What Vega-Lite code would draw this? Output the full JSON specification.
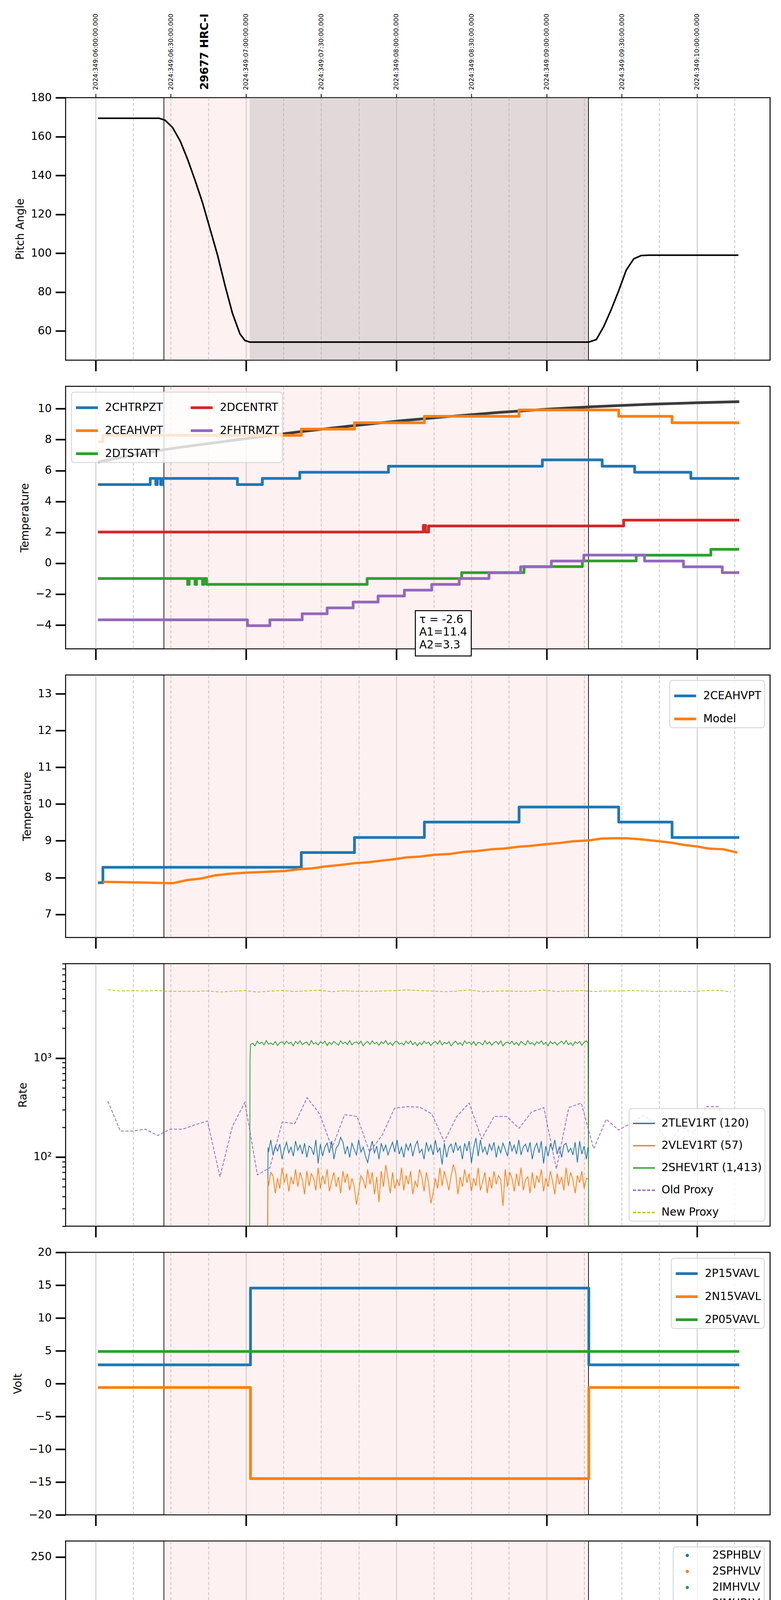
{
  "$schema": "https://vega.github.io/schema/vega-lite/v6.json",
  "background": "white",
  "padding": {"left": 28, "top": 33, "right": 0, "bottom": 0},
  "bounds": "flush",
  "spacing": 67,
  "config": {
    "font": "DejaVu Sans",
    "view": {"stroke": "black", "strokeWidth": 2.5},
    "axis": {
      "labelFont": "DejaVu Sans", "titleFont": "DejaVu Sans",
      "labelFontSize": 28, "titleFontSize": 28, "titleFontWeight": "normal",
      "labelColor": "black", "titleColor": "black", "tickColor": "black",
      "domain": false, "grid": false, "labelFlush": false, "labelOverlap": false, "labelLimit": 0
    },
    "axisY": {"tickSize": 26, "tickWidth": 4, "labelPadding": 10, "titlePadding": 12},
    "legend": {
      "labelFont": "DejaVu Sans", "labelFontSize": 28, "labelColor": "black",
      "fillColor": "rgba(255,255,255,0.8)", "strokeColor": "#d9d9d9", "strokeWidth": 2.5,
      "cornerRadius": 7, "padding": 8, "rowPadding": 13, "labelLimit": 0, "offset": 14
    }
  },
  "resolve": {
    "scale": {"x": "independent", "y": "independent", "color": "independent", "strokeDash": "independent"},
    "legend": {"color": "independent", "strokeDash": "independent"}
  },
  "datasets": {
    "region": [{"t": 1.454, "t2": 4.279}],
    "slew": [{"t": 2.025, "t2": 4.279}],
    "edges": [{"t": 1.454}, {"t": 4.279}],
    "hrc": [{"t": 1.727, "v": 184, "label": "29677 HRC-I"}],
    "pitch": [
      {"t": 1.015, "v": 169.4}, {"t": 1.423, "v": 169.4}, {"t": 1.462, "v": 168.4}, {"t": 1.512, "v": 164.6},
      {"t": 1.562, "v": 157.8}, {"t": 1.612, "v": 148.2}, {"t": 1.661, "v": 137.6}, {"t": 1.711, "v": 126.0},
      {"t": 1.761, "v": 112.5}, {"t": 1.811, "v": 99.0}, {"t": 1.86, "v": 83.6}, {"t": 1.91, "v": 69.1},
      {"t": 1.96, "v": 58.5}, {"t": 1.993, "v": 55.1}, {"t": 2.026, "v": 54.3}, {"t": 4.281, "v": 54.3},
      {"t": 4.331, "v": 55.6}, {"t": 4.381, "v": 62.4}, {"t": 4.43, "v": 71.0}, {"t": 4.48, "v": 80.7},
      {"t": 4.53, "v": 91.3}, {"t": 4.58, "v": 97.1}, {"t": 4.629, "v": 98.8}, {"t": 4.679, "v": 99.0},
      {"t": 5.276, "v": 99.0}
    ],
    "temps": [
      {"s": "2CHTRPZT", "t": 1.015, "v": 5.09}, {"s": "2CHTRPZT", "t": 1.363, "v": 5.49}, {"s": "2CHTRPZT", "t": 1.4, "v": 5.09},
      {"s": "2CHTRPZT", "t": 1.41, "v": 5.49}, {"s": "2CHTRPZT", "t": 1.432, "v": 5.09}, {"s": "2CHTRPZT", "t": 1.446, "v": 5.49},
      {"s": "2CHTRPZT", "t": 1.943, "v": 5.09}, {"s": "2CHTRPZT", "t": 2.109, "v": 5.49}, {"s": "2CHTRPZT", "t": 2.358, "v": 5.89},
      {"s": "2CHTRPZT", "t": 2.948, "v": 6.28}, {"s": "2CHTRPZT", "t": 3.972, "v": 6.69}, {"s": "2CHTRPZT", "t": 4.37, "v": 6.28},
      {"s": "2CHTRPZT", "t": 4.586, "v": 5.89}, {"s": "2CHTRPZT", "t": 4.96, "v": 5.49}, {"s": "2CHTRPZT", "t": 5.282, "v": 5.49},
      {"s": "2CEAHVPT", "t": 1.015, "v": 7.86}, {"s": "2CEAHVPT", "t": 1.048, "v": 8.28}, {"s": "2CEAHVPT", "t": 2.368, "v": 8.68},
      {"s": "2CEAHVPT", "t": 2.722, "v": 9.09}, {"s": "2CEAHVPT", "t": 3.187, "v": 9.51}, {"s": "2CEAHVPT", "t": 3.817, "v": 9.92},
      {"s": "2CEAHVPT", "t": 4.48, "v": 9.51}, {"s": "2CEAHVPT", "t": 4.835, "v": 9.09}, {"s": "2CEAHVPT", "t": 5.282, "v": 9.09},
      {"s": "2DTSTATT", "t": 1.015, "v": -0.99}, {"s": "2DTSTATT", "t": 1.612, "v": -1.37}, {"s": "2DTSTATT", "t": 1.622, "v": -0.99},
      {"s": "2DTSTATT", "t": 1.661, "v": -1.37}, {"s": "2DTSTATT", "t": 1.671, "v": -0.99}, {"s": "2DTSTATT", "t": 1.711, "v": -1.37},
      {"s": "2DTSTATT", "t": 1.72, "v": -0.99}, {"s": "2DTSTATT", "t": 1.738, "v": -1.37}, {"s": "2DTSTATT", "t": 2.806, "v": -0.99},
      {"s": "2DTSTATT", "t": 3.435, "v": -0.61}, {"s": "2DTSTATT", "t": 3.85, "v": -0.22}, {"s": "2DTSTATT", "t": 4.238, "v": 0.15},
      {"s": "2DTSTATT", "t": 4.596, "v": 0.52}, {"s": "2DTSTATT", "t": 5.093, "v": 0.9}, {"s": "2DTSTATT", "t": 5.282, "v": 0.9},
      {"s": "2DCENTRT", "t": 1.015, "v": 2.02}, {"s": "2DCENTRT", "t": 3.18, "v": 2.45}, {"s": "2DCENTRT", "t": 3.195, "v": 2.02},
      {"s": "2DCENTRT", "t": 3.215, "v": 2.41}, {"s": "2DCENTRT", "t": 4.513, "v": 2.79}, {"s": "2DCENTRT", "t": 5.282, "v": 2.79},
      {"s": "2FHTRMZT", "t": 1.015, "v": -3.66}, {"s": "2FHTRMZT", "t": 2.01, "v": -4.04}, {"s": "2FHTRMZT", "t": 2.159, "v": -3.66},
      {"s": "2FHTRMZT", "t": 2.374, "v": -3.27}, {"s": "2FHTRMZT", "t": 2.54, "v": -2.89}, {"s": "2FHTRMZT", "t": 2.713, "v": -2.51},
      {"s": "2FHTRMZT", "t": 2.879, "v": -2.12}, {"s": "2FHTRMZT", "t": 3.054, "v": -1.74}, {"s": "2FHTRMZT", "t": 3.236, "v": -1.37},
      {"s": "2FHTRMZT", "t": 3.419, "v": -0.99}, {"s": "2FHTRMZT", "t": 3.617, "v": -0.61}, {"s": "2FHTRMZT", "t": 3.827, "v": -0.23},
      {"s": "2FHTRMZT", "t": 4.032, "v": 0.14}, {"s": "2FHTRMZT", "t": 4.248, "v": 0.53}, {"s": "2FHTRMZT", "t": 4.652, "v": 0.14},
      {"s": "2FHTRMZT", "t": 4.911, "v": -0.23}, {"s": "2FHTRMZT", "t": 5.169, "v": -0.61}, {"s": "2FHTRMZT", "t": 5.282, "v": -0.61}
    ],
    "model2": [
      {"t": 1.015, "v": 6.55}, {"t": 1.463, "v": 7.36}, {"t": 1.761, "v": 7.76}, {"t": 2.026, "v": 8.1},
      {"t": 2.358, "v": 8.51}, {"t": 2.69, "v": 8.88}, {"t": 3.021, "v": 9.21}, {"t": 3.353, "v": 9.5},
      {"t": 3.684, "v": 9.76}, {"t": 4.016, "v": 9.98}, {"t": 4.347, "v": 10.15}, {"t": 4.679, "v": 10.29},
      {"t": 5.01, "v": 10.39}, {"t": 5.282, "v": 10.46}
    ],
    "limit2": [{"v": 9.5}],
    "limit3": [{"v": 12}, {"v": 9.5}],
    "fitbox": [{"t": 3.127, "t2": 3.499, "v": -3.07, "v2": -6.0}],
    "fittext": [
      {"t": 3.153, "v": -3.66, "label": "τ = -2.6"},
      {"t": 3.153, "v": -4.48, "label": "A1=11.4"},
      {"t": 3.153, "v": -5.32, "label": "A2=3.3"}
    ],
    "model3": [
      {"t": 1.048, "v": 7.885}, {"t": 1.247, "v": 7.87}, {"t": 1.363, "v": 7.86}, {"t": 1.512, "v": 7.846},
      {"t": 1.612, "v": 7.934}, {"t": 1.695, "v": 7.97}, {"t": 1.794, "v": 8.06}, {"t": 1.894, "v": 8.105},
      {"t": 1.993, "v": 8.13}, {"t": 2.126, "v": 8.155}, {"t": 2.258, "v": 8.18}, {"t": 2.358, "v": 8.23},
      {"t": 2.441, "v": 8.25}, {"t": 2.524, "v": 8.3}, {"t": 2.623, "v": 8.34}, {"t": 2.722, "v": 8.39},
      {"t": 2.822, "v": 8.42}, {"t": 2.921, "v": 8.47}, {"t": 2.988, "v": 8.5}, {"t": 3.071, "v": 8.55},
      {"t": 3.154, "v": 8.57}, {"t": 3.254, "v": 8.62}, {"t": 3.353, "v": 8.64}, {"t": 3.453, "v": 8.7},
      {"t": 3.535, "v": 8.72}, {"t": 3.635, "v": 8.77}, {"t": 3.718, "v": 8.79}, {"t": 3.817, "v": 8.84},
      {"t": 3.884, "v": 8.86}, {"t": 4.0, "v": 8.91}, {"t": 4.083, "v": 8.94}, {"t": 4.182, "v": 8.99},
      {"t": 4.281, "v": 9.01}, {"t": 4.364, "v": 9.06}, {"t": 4.447, "v": 9.07}, {"t": 4.53, "v": 9.07},
      {"t": 4.629, "v": 9.04}, {"t": 4.745, "v": 8.99}, {"t": 4.828, "v": 8.95}, {"t": 4.911, "v": 8.89},
      {"t": 5.01, "v": 8.84}, {"t": 5.076, "v": 8.79}, {"t": 5.176, "v": 8.77}, {"t": 5.269, "v": 8.68}
    ],
    "dense": [
      {"t": 2.024, "SH": 8}, {"t": 2.027, "SH": 950}, {"t": 2.03, "SH": 1374}, {"t": 2.045, "SH": 1413},
      {"t": 2.06, "SH": 1327}, {"t": 2.075, "SH": 1483}, {"t": 2.09, "SH": 1394}, {"t": 2.105, "SH": 1453},
      {"t": 2.12, "SH": 1356}, {"t": 2.135, "SH": 1504}, {"t": 2.143, "TL": 8, "VL": 8}, {"t": 2.147, "TL": 125, "VL": 60},
      {"t": 2.15, "TL": 112, "VL": 51, "SH": 1384, "IV": 78.9, "IB": 85.1},
      {"t": 2.165, "TL": 149, "VL": 70, "SH": 1423, "IV": 78.9, "IB": 86.6},
      {"t": 2.18, "TL": 105, "VL": 65, "SH": 1365, "IV": 78.9, "IB": 84.8},
      {"t": 2.195, "TL": 129, "VL": 43, "SH": 1473, "IV": 78.9, "IB": 85.9},
      {"t": 2.21, "TL": 115, "VL": 61, "SH": 1338, "IV": 78.9, "IB": 85.3},
      {"t": 2.225, "TL": 135, "VL": 48, "SH": 1433, "IV": 78.9, "IB": 86.1},
      {"t": 2.24, "TL": 95, "VL": 78, "SH": 1463, "IV": 78.9, "IB": 84.4},
      {"t": 2.255, "TL": 120, "VL": 55, "SH": 1374, "IV": 78.9, "IB": 85.5},
      {"t": 2.27, "TL": 141, "VL": 68, "SH": 1483, "IV": 78.9, "IB": 86.3},
      {"t": 2.285, "TL": 110, "VL": 45, "SH": 1403, "IV": 78.9, "IB": 85.0},
      {"t": 2.3, "TL": 126, "VL": 63, "SH": 1443, "IV": 78.9, "IB": 85.7},
      {"t": 2.315, "TL": 102, "VL": 53, "SH": 1327, "IV": 78.9, "IB": 84.7},
      {"t": 2.33, "TL": 145, "VL": 75, "SH": 1473, "IV": 78.9, "IB": 86.5},
      {"t": 2.345, "TL": 117, "VL": 50, "SH": 1394, "IV": 78.9, "IB": 85.4},
      {"t": 2.36, "TL": 132, "VL": 70, "SH": 1494, "IV": 78.9, "IB": 86.0},
      {"t": 2.375, "TL": 107, "VL": 59, "SH": 1365, "IV": 78.9, "IB": 84.9},
      {"t": 2.39, "TL": 138, "VL": 42, "SH": 1423, "IV": 78.9, "IB": 86.2},
      {"t": 2.405, "TL": 99, "VL": 72, "SH": 1453, "IV": 78.9, "IB": 84.5},
      {"t": 2.42, "TL": 129, "VL": 51, "SH": 1347, "IV": 78.9, "IB": 85.9},
      {"t": 2.435, "TL": 123, "VL": 68, "SH": 1504, "IV": 78.9, "IB": 85.6},
      {"t": 2.45, "TL": 105, "VL": 61, "SH": 1384, "IV": 78.9, "IB": 84.8},
      {"t": 2.465, "TL": 149, "VL": 46, "SH": 1433, "IV": 78.9, "IB": 86.6},
      {"t": 2.48, "TL": 86, "VL": 78, "SH": 1356, "IV": 78.9, "IB": 85.1},
      {"t": 2.495, "TL": 135, "VL": 48, "SH": 1463, "IV": 78.9, "IB": 86.1},
      {"t": 2.51, "TL": 102, "VL": 65, "SH": 1403, "IV": 78.9, "IB": 84.7},
      {"t": 2.525, "TL": 126, "VL": 53, "SH": 1483, "IV": 78.9, "IB": 85.7},
      {"t": 2.54, "TL": 138, "VL": 75, "SH": 1338, "IV": 78.9, "IB": 86.2},
      {"t": 2.555, "TL": 110, "VL": 45, "SH": 1443, "IV": 78.9, "IB": 85.0},
      {"t": 2.57, "TL": 145, "VL": 57, "SH": 1374, "IV": 78.9, "IB": 86.5},
      {"t": 2.585, "TL": 95, "VL": 70, "SH": 1473, "IV": 78.9, "IB": 84.4},
      {"t": 2.6, "TL": 123, "VL": 50, "SH": 1413, "IV": 78.9, "IB": 85.6},
      {"t": 2.615, "TL": 132, "VL": 63, "SH": 1347, "IV": 78.9, "IB": 86.0},
      {"t": 2.63, "TL": 158, "VL": 43, "SH": 1494, "IV": 78.9, "IB": 85.3},
      {"t": 2.645, "TL": 141, "VL": 72, "SH": 1394, "IV": 78.9, "IB": 86.3},
      {"t": 2.66, "TL": 107, "VL": 55, "SH": 1453, "IV": 78.9, "IB": 84.9},
      {"t": 2.675, "TL": 129, "VL": 68, "SH": 1365, "IV": 78.9, "IB": 85.9},
      {"t": 2.69, "TL": 99, "VL": 46, "SH": 1504, "IV": 78.9, "IB": 84.5},
      {"t": 2.705, "TL": 138, "VL": 61, "SH": 1356, "IV": 78.9, "IB": 86.2},
      {"t": 2.72, "TL": 120, "VL": 51, "SH": 1433, "IV": 78.9, "IB": 85.5},
      {"t": 2.735, "TL": 105, "VL": 33, "SH": 1463, "IV": 78.9, "IB": 84.8},
      {"t": 2.75, "TL": 149, "VL": 45, "SH": 1384, "IV": 78.9, "IB": 86.6},
      {"t": 2.765, "TL": 112, "VL": 65, "SH": 1483, "IV": 78.9, "IB": 85.1},
      {"t": 2.78, "TL": 126, "VL": 59, "SH": 1327, "IV": 78.9, "IB": 85.7},
      {"t": 2.795, "TL": 102, "VL": 48, "SH": 1423, "IV": 78.9, "IB": 84.7},
      {"t": 2.81, "TL": 88, "VL": 75, "SH": 1473, "IV": 78.9, "IB": 86.1},
      {"t": 2.825, "TL": 117, "VL": 53, "SH": 1374, "IV": 78.9, "IB": 85.4},
      {"t": 2.84, "TL": 145, "VL": 70, "SH": 1494, "IV": 78.9, "IB": 86.5},
      {"t": 2.855, "TL": 110, "VL": 42, "SH": 1394, "IV": 78.9, "IB": 85.0},
      {"t": 2.87, "TL": 129, "VL": 63, "SH": 1443, "IV": 78.9, "IB": 85.9},
      {"t": 2.885, "TL": 95, "VL": 35, "SH": 1347, "IV": 78.9, "IB": 84.4},
      {"t": 2.9, "TL": 138, "VL": 72, "SH": 1463, "IV": 78.9, "IB": 86.2},
      {"t": 2.915, "TL": 115, "VL": 50, "SH": 1403, "IV": 78.9, "IB": 85.3},
      {"t": 2.93, "TL": 132, "VL": 83, "SH": 1504, "IV": 78.9, "IB": 86.0},
      {"t": 2.945, "TL": 105, "VL": 61, "SH": 1365, "IV": 78.9, "IB": 84.8},
      {"t": 2.96, "TL": 123, "VL": 43, "SH": 1433, "IV": 78.9, "IB": 85.6},
      {"t": 2.975, "TL": 141, "VL": 70, "SH": 1338, "IV": 78.9, "IB": 86.3},
      {"t": 2.99, "TL": 112, "VL": 48, "SH": 1453, "IV": 78.9, "IB": 85.1},
      {"t": 3.005, "TL": 149, "VL": 59, "SH": 1473, "IV": 78.9, "IB": 86.6},
      {"t": 3.02, "TL": 107, "VL": 51, "SH": 1384, "IV": 78.9, "IB": 84.9},
      {"t": 3.035, "TL": 126, "VL": 78, "SH": 1423, "IV": 78.9, "IB": 85.7},
      {"t": 3.05, "TL": 99, "VL": 46, "SH": 1356, "IV": 78.9, "IB": 84.5},
      {"t": 3.065, "TL": 135, "VL": 65, "SH": 1483, "IV": 78.9, "IB": 86.1},
      {"t": 3.08, "TL": 117, "VL": 53, "SH": 1394, "IV": 78.9, "IB": 85.4},
      {"t": 3.095, "TL": 138, "VL": 72, "SH": 1494, "IV": 78.9, "IB": 86.2},
      {"t": 3.11, "TL": 102, "VL": 42, "SH": 1365, "IV": 78.9, "IB": 84.7},
      {"t": 3.125, "TL": 129, "VL": 57, "SH": 1443, "IV": 78.9, "IB": 85.9},
      {"t": 3.14, "TL": 145, "VL": 50, "SH": 1327, "IV": 78.9, "IB": 86.5},
      {"t": 3.155, "TL": 110, "VL": 75, "SH": 1433, "IV": 78.9, "IB": 85.0},
      {"t": 3.17, "TL": 120, "VL": 63, "SH": 1365, "IV": 78.9, "IB": 85.5},
      {"t": 3.185, "TL": 95, "VL": 45, "SH": 1483, "IV": 78.9, "IB": 84.4},
      {"t": 3.2, "TL": 141, "VL": 70, "SH": 1403, "IV": 78.9, "IB": 86.3},
      {"t": 3.215, "TL": 115, "VL": 55, "SH": 1453, "IV": 78.9, "IB": 85.3},
      {"t": 3.23, "TL": 132, "VL": 34, "SH": 1338, "IV": 78.9, "IB": 86.0},
      {"t": 3.245, "TL": 105, "VL": 43, "SH": 1423, "IV": 78.9, "IB": 84.8},
      {"t": 3.26, "TL": 149, "VL": 61, "SH": 1473, "IV": 78.9, "IB": 86.6},
      {"t": 3.275, "TL": 112, "VL": 48, "SH": 1384, "IV": 78.9, "IB": 85.1},
      {"t": 3.29, "TL": 123, "VL": 78, "SH": 1504, "IV": 78.9, "IB": 85.6},
      {"t": 3.305, "TL": 84, "VL": 51, "SH": 1356, "IV": 78.9, "IB": 84.9},
      {"t": 3.32, "TL": 138, "VL": 72, "SH": 1443, "IV": 78.9, "IB": 86.2},
      {"t": 3.335, "TL": 99, "VL": 59, "SH": 1394, "IV": 78.9, "IB": 84.5},
      {"t": 3.35, "TL": 126, "VL": 46, "SH": 1463, "IV": 78.9, "IB": 85.7},
      {"t": 3.365, "TL": 135, "VL": 65, "SH": 1327, "IV": 78.9, "IB": 86.1},
      {"t": 3.38, "TL": 110, "VL": 84, "SH": 1413, "IV": 78.9, "IB": 85.0},
      {"t": 3.395, "TL": 141, "VL": 70, "SH": 1483, "IV": 78.9, "IB": 86.3},
      {"t": 3.41, "TL": 117, "VL": 42, "SH": 1374, "IV": 78.9, "IB": 85.4},
      {"t": 3.425, "TL": 129, "VL": 63, "SH": 1433, "IV": 78.9, "IB": 85.9},
      {"t": 3.44, "TL": 95, "VL": 50, "SH": 1347, "IV": 78.9, "IB": 84.4},
      {"t": 3.455, "TL": 138, "VL": 75, "SH": 1494, "IV": 78.9, "IB": 86.2},
      {"t": 3.47, "TL": 115, "VL": 55, "SH": 1403, "IV": 78.9, "IB": 85.3},
      {"t": 3.485, "TL": 145, "VL": 68, "SH": 1453, "IV": 78.9, "IB": 86.5},
      {"t": 3.5, "TL": 87, "VL": 45, "SH": 1365, "IV": 78.9, "IB": 84.9},
      {"t": 3.515, "TL": 123, "VL": 61, "SH": 1473, "IV": 78.9, "IB": 85.6},
      {"t": 3.53, "TL": 156, "VL": 51, "SH": 1338, "IV": 78.9, "IB": 86.0},
      {"t": 3.545, "TL": 102, "VL": 78, "SH": 1443, "IV": 78.9, "IB": 84.7},
      {"t": 3.56, "TL": 149, "VL": 46, "SH": 1423, "IV": 78.9, "IB": 86.6},
      {"t": 3.575, "TL": 112, "VL": 57, "SH": 1356, "IV": 78.9, "IB": 85.1},
      {"t": 3.59, "TL": 126, "VL": 70, "SH": 1504, "IV": 78.9, "IB": 85.7},
      {"t": 3.605, "TL": 105, "VL": 43, "SH": 1384, "IV": 78.9, "IB": 84.8},
      {"t": 3.62, "TL": 135, "VL": 63, "SH": 1463, "IV": 78.9, "IB": 86.1},
      {"t": 3.635, "TL": 117, "VL": 48, "SH": 1347, "IV": 78.9, "IB": 85.4},
      {"t": 3.65, "TL": 141, "VL": 72, "SH": 1433, "IV": 78.9, "IB": 86.3},
      {"t": 3.665, "TL": 99, "VL": 53, "SH": 1473, "IV": 78.9, "IB": 84.5},
      {"t": 3.68, "TL": 129, "VL": 65, "SH": 1374, "IV": 78.9, "IB": 85.9},
      {"t": 3.695, "TL": 110, "VL": 59, "SH": 1494, "IV": 78.9, "IB": 85.0},
      {"t": 3.71, "TL": 138, "VL": 32, "SH": 1327, "IV": 78.9, "IB": 86.2},
      {"t": 3.725, "TL": 120, "VL": 75, "SH": 1423, "IV": 78.9, "IB": 85.5},
      {"t": 3.74, "TL": 102, "VL": 50, "SH": 1453, "IV": 78.9, "IB": 84.7},
      {"t": 3.755, "TL": 145, "VL": 70, "SH": 1394, "IV": 78.9, "IB": 86.5},
      {"t": 3.77, "TL": 115, "VL": 61, "SH": 1483, "IV": 78.9, "IB": 85.3},
      {"t": 3.785, "TL": 132, "VL": 45, "SH": 1365, "IV": 78.9, "IB": 86.0},
      {"t": 3.8, "TL": 107, "VL": 68, "SH": 1443, "IV": 78.9, "IB": 84.9},
      {"t": 3.815, "TL": 149, "VL": 51, "SH": 1338, "IV": 78.9, "IB": 86.6},
      {"t": 3.83, "TL": 105, "VL": 78, "SH": 1473, "IV": 78.9, "IB": 84.8},
      {"t": 3.845, "TL": 126, "VL": 46, "SH": 1413, "IV": 78.9, "IB": 85.7},
      {"t": 3.86, "TL": 135, "VL": 59, "SH": 1356, "IV": 78.9, "IB": 86.1},
      {"t": 3.875, "TL": 112, "VL": 63, "SH": 1504, "IV": 78.9, "IB": 85.1},
      {"t": 3.89, "TL": 141, "VL": 43, "SH": 1384, "IV": 78.9, "IB": 86.3},
      {"t": 3.905, "TL": 95, "VL": 70, "SH": 1433, "IV": 78.9, "IB": 84.4},
      {"t": 3.92, "TL": 123, "VL": 48, "SH": 1347, "IV": 78.9, "IB": 85.6},
      {"t": 3.935, "TL": 138, "VL": 65, "SH": 1463, "IV": 78.9, "IB": 86.2},
      {"t": 3.95, "TL": 110, "VL": 55, "SH": 1403, "IV": 78.9, "IB": 85.0},
      {"t": 3.965, "TL": 145, "VL": 75, "SH": 1494, "IV": 78.9, "IB": 86.5},
      {"t": 3.98, "TL": 86, "VL": 45, "SH": 1374, "IV": 78.9, "IB": 85.3},
      {"t": 3.995, "TL": 129, "VL": 61, "SH": 1443, "IV": 78.9, "IB": 85.9},
      {"t": 4.01, "TL": 102, "VL": 50, "SH": 1327, "IV": 78.9, "IB": 84.7},
      {"t": 4.025, "TL": 135, "VL": 72, "SH": 1473, "IV": 78.9, "IB": 86.1},
      {"t": 4.04, "TL": 117, "VL": 57, "SH": 1394, "IV": 78.9, "IB": 85.4},
      {"t": 4.055, "TL": 149, "VL": 42, "SH": 1453, "IV": 78.9, "IB": 86.6},
      {"t": 4.07, "TL": 107, "VL": 68, "SH": 1356, "IV": 78.9, "IB": 84.9},
      {"t": 4.085, "TL": 126, "VL": 53, "SH": 1423, "IV": 78.9, "IB": 85.7},
      {"t": 4.1, "TL": 99, "VL": 63, "SH": 1483, "IV": 78.9, "IB": 84.5},
      {"t": 4.115, "TL": 132, "VL": 46, "SH": 1384, "IV": 78.9, "IB": 86.0},
      {"t": 4.13, "TL": 138, "VL": 78, "SH": 1504, "IV": 78.9, "IB": 86.2},
      {"t": 4.145, "TL": 112, "VL": 51, "SH": 1365, "IV": 78.9, "IB": 85.1},
      {"t": 4.16, "TL": 123, "VL": 70, "SH": 1433, "IV": 78.9, "IB": 85.6},
      {"t": 4.175, "TL": 105, "VL": 59, "SH": 1338, "IV": 78.9, "IB": 84.8},
      {"t": 4.19, "TL": 141, "VL": 43, "SH": 1463, "IV": 78.9, "IB": 86.3},
      {"t": 4.205, "TL": 88, "VL": 65, "SH": 1403, "IV": 78.9, "IB": 85.3},
      {"t": 4.22, "TL": 145, "VL": 55, "SH": 1473, "IV": 78.9, "IB": 86.5},
      {"t": 4.235, "TL": 107, "VL": 72, "SH": 1347, "IV": 78.9, "IB": 84.9},
      {"t": 4.25, "TL": 129, "VL": 48, "SH": 1443, "IV": 78.9, "IB": 85.9},
      {"t": 4.265, "TL": 95, "VL": 61, "SH": 1494, "IV": 78.9, "IB": 84.4},
      {"t": 4.276, "TL": 126, "VL": 60, "SH": 1420, "IV": 78.9, "IB": 85.5},
      {"t": 4.281, "SH": 8, "IV": 78.9, "IB": 85.6}
    ],
    "proxy": [
      {"t": 1.081, "old": 366, "new": 4909}, {"t": 1.164, "old": 183, "new": 4768}, {"t": 1.247, "old": 183, "new": 4808},
      {"t": 1.33, "old": 191, "new": 4768}, {"t": 1.413, "old": 165, "new": 4808}, {"t": 1.496, "old": 191, "new": 4728},
      {"t": 1.579, "old": 191, "new": 4728}, {"t": 1.661, "old": 212, "new": 4728}, {"t": 1.744, "old": 231, "new": 4768},
      {"t": 1.827, "old": 63, "new": 4649}, {"t": 1.91, "old": 204, "new": 4748}, {"t": 1.993, "old": 358, "new": 4808},
      {"t": 2.076, "old": 66, "new": 4649}, {"t": 2.159, "old": 78, "new": 4748}, {"t": 2.242, "old": 226, "new": 4828},
      {"t": 2.325, "old": 217, "new": 4708}, {"t": 2.407, "old": 398, "new": 4788}, {"t": 2.49, "old": 273, "new": 4848},
      {"t": 2.573, "old": 123, "new": 4689}, {"t": 2.656, "old": 268, "new": 4788}, {"t": 2.739, "old": 257, "new": 4728},
      {"t": 2.822, "old": 113, "new": 4728}, {"t": 2.905, "old": 165, "new": 4768}, {"t": 2.988, "old": 310, "new": 4808},
      {"t": 3.071, "old": 323, "new": 4889}, {"t": 3.154, "old": 320, "new": 4808}, {"t": 3.236, "old": 273, "new": 4768},
      {"t": 3.319, "old": 143, "new": 4689}, {"t": 3.402, "old": 257, "new": 4748}, {"t": 3.485, "old": 351, "new": 4889},
      {"t": 3.568, "old": 152, "new": 4689}, {"t": 3.651, "old": 257, "new": 4748}, {"t": 3.734, "old": 257, "new": 4768},
      {"t": 3.817, "old": 195, "new": 4728}, {"t": 3.9, "old": 285, "new": 4748}, {"t": 3.982, "old": 316, "new": 4869},
      {"t": 4.065, "old": 76, "new": 4708}, {"t": 4.148, "old": 316, "new": 4768}, {"t": 4.231, "old": 351, "new": 4808},
      {"t": 4.314, "old": 121, "new": 4708}, {"t": 4.397, "old": 241, "new": 4768}, {"t": 4.48, "old": 187, "new": 4768},
      {"t": 4.563, "old": 221, "new": 4808}, {"t": 4.646, "old": 262, "new": 4768}, {"t": 4.729, "old": 217, "new": 4708},
      {"t": 4.811, "old": 134, "new": 4748}, {"t": 4.894, "old": 204, "new": 4728}, {"t": 4.977, "old": 172, "new": 4708},
      {"t": 5.06, "old": 323, "new": 4808}, {"t": 5.143, "old": 323, "new": 4848}, {"t": 5.226, "old": 152, "new": 4669}
    ],
    "volts": [
      {"s": "2P15VAVL", "t": 1.015, "v": 2.85}, {"s": "2P15VAVL", "t": 2.03, "v": 14.55},
      {"s": "2P15VAVL", "t": 4.281, "v": 2.85}, {"s": "2P15VAVL", "t": 5.282, "v": 2.85},
      {"s": "2N15VAVL", "t": 1.015, "v": -0.59}, {"s": "2N15VAVL", "t": 2.03, "v": -14.48},
      {"s": "2N15VAVL", "t": 4.281, "v": -0.59}, {"s": "2N15VAVL", "t": 5.282, "v": -0.59},
      {"s": "2P05VAVL", "t": 1.015, "v": 4.89}, {"s": "2P05VAVL", "t": 5.282, "v": 4.89}
    ],
    "hvstart": [
      {"s": "IV", "t": 2.099, "v": 99.5}, {"s": "IV", "t": 2.109, "v": 95.4}, {"s": "IV", "t": 2.119, "v": 90.0},
      {"s": "IV", "t": 2.129, "v": 86.0}, {"s": "IV", "t": 2.139, "v": 82.4}, {"s": "IV", "t": 2.146, "v": 79.0},
      {"s": "IB", "t": 2.045, "v": 127}, {"s": "IB", "t": 2.053, "v": 127.5}, {"s": "IB", "t": 2.061, "v": 127},
      {"s": "IB", "t": 2.069, "v": 127.5}, {"s": "IB", "t": 2.077, "v": 127}, {"s": "IB", "t": 2.085, "v": 127.5},
      {"s": "IB", "t": 2.093, "v": 127}, {"s": "IB", "t": 2.099, "v": 119}, {"s": "IB", "t": 2.106, "v": 106},
      {"s": "IB", "t": 2.112, "v": 101}, {"s": "IB", "t": 2.119, "v": 97}, {"s": "IB", "t": 2.126, "v": 93},
      {"s": "IB", "t": 2.132, "v": 89}, {"s": "IB", "t": 2.139, "v": 86}
    ],
    "dettemp": [
      {"s": "2SPINATM", "t": 2.043, "v": 3.66}, {"s": "2SPINATM", "t": 2.132, "v": 4.15}, {"s": "2SPINATM", "t": 2.147, "v": -1},
      {"s": "2SPINATM", "t": 2.152, "v": 4.15}, {"s": "2SPINATM", "t": 2.257, "v": -1}, {"s": "2SPINATM", "t": 2.263, "v": 4.15},
      {"s": "2SPINATM", "t": 4.274, "v": 4.15},
      {"s": "2SPHVATM", "t": 2.029, "v": 15.65}, {"s": "2SPHVATM", "t": 2.033, "v": 16.35}, {"s": "2SPHVATM", "t": 2.147, "v": 8.32},
      {"s": "2SPHVATM", "t": 2.152, "v": 16.35}, {"s": "2SPHVATM", "t": 2.257, "v": 9.31}, {"s": "2SPHVATM", "t": 2.263, "v": 16.35},
      {"s": "2SPHVATM", "t": 2.869, "v": 16.77}, {"s": "2SPHVATM", "t": 2.873, "v": 16.35}, {"s": "2SPHVATM", "t": 2.954, "v": 16.7},
      {"s": "2SPHVATM", "t": 3.468, "v": 17.05}, {"s": "2SPHVATM", "t": 3.833, "v": 17.5}, {"s": "2SPHVATM", "t": 3.837, "v": 17.05},
      {"s": "2SPHVATM", "t": 4.058, "v": 17.4}, {"s": "2SPHVATM", "t": 4.274, "v": 17.4},
      {"s": "2IMINATM", "t": 2.033, "v": 1.74}, {"s": "2IMINATM", "t": 2.147, "v": 4.2}, {"s": "2IMINATM", "t": 2.152, "v": 1.74},
      {"s": "2IMINATM", "t": 2.257, "v": 4.2}, {"s": "2IMINATM", "t": 2.263, "v": 1.74}, {"s": "2IMINATM", "t": 3.064, "v": 2.2},
      {"s": "2IMINATM", "t": 4.214, "v": 2.69}, {"s": "2IMINATM", "t": 4.274, "v": 2.69},
      {"s": "2IMHVATM", "t": 2.026, "v": -1}, {"s": "2IMHVATM", "t": 2.028, "v": 15.65}, {"s": "2IMHVATM", "t": 2.147, "v": 16.44},
      {"s": "2IMHVATM", "t": 2.152, "v": 15.65}, {"s": "2IMHVATM", "t": 2.257, "v": 16.44}, {"s": "2IMHVATM", "t": 2.263, "v": 15.65},
      {"s": "2IMHVATM", "t": 2.286, "v": 16.04}, {"s": "2IMHVATM", "t": 2.398, "v": 16.36}, {"s": "2IMHVATM", "t": 2.514, "v": 16.74},
      {"s": "2IMHVATM", "t": 2.643, "v": 17.07}, {"s": "2IMHVATM", "t": 2.796, "v": 17.43}, {"s": "2IMHVATM", "t": 2.974, "v": 17.78},
      {"s": "2IMHVATM", "t": 3.203, "v": 18.12}, {"s": "2IMHVATM", "t": 3.478, "v": 18.47}, {"s": "2IMHVATM", "t": 3.843, "v": 18.84},
      {"s": "2IMHVATM", "t": 4.287, "v": 30}, {"s": "2IMHVATM", "t": 4.29, "v": -5}
    ],
    "fea": [
      {"s": "2FRADPYT", "t": 1.015, "v": -5.6}, {"s": "2FRADPYT", "t": 1.86, "v": -5.98}, {"s": "2FRADPYT", "t": 2.335, "v": -5.6},
      {"s": "2FRADPYT", "t": 2.54, "v": -5.2}, {"s": "2FRADPYT", "t": 2.732, "v": -4.81}, {"s": "2FRADPYT", "t": 2.931, "v": -4.43},
      {"s": "2FRADPYT", "t": 3.13, "v": -4.04}, {"s": "2FRADPYT", "t": 3.342, "v": -3.65}, {"s": "2FRADPYT", "t": 3.561, "v": -3.27},
      {"s": "2FRADPYT", "t": 3.784, "v": -2.88}, {"s": "2FRADPYT", "t": 4.015, "v": -2.5}, {"s": "2FRADPYT", "t": 4.271, "v": -2.12},
      {"s": "2FRADPYT", "t": 4.58, "v": -2.5}, {"s": "2FRADPYT", "t": 4.722, "v": -2.88}, {"s": "2FRADPYT", "t": 4.917, "v": -3.27},
      {"s": "2FRADPYT", "t": 5.166, "v": -3.65}, {"s": "2FRADPYT", "t": 5.282, "v": -3.65},
      {"s": "2FEPRATM", "t": 2.026, "v": -4.62}, {"s": "2FEPRATM", "t": 2.033, "v": -4.36}, {"s": "2FEPRATM", "t": 2.076, "v": -3.92},
      {"s": "2FEPRATM", "t": 2.119, "v": -3.51}, {"s": "2FEPRATM", "t": 2.147, "v": -6.04}, {"s": "2FEPRATM", "t": 2.152, "v": -3.51},
      {"s": "2FEPRATM", "t": 2.169, "v": -3.11}, {"s": "2FEPRATM", "t": 2.232, "v": -2.69}, {"s": "2FEPRATM", "t": 2.257, "v": -6.04},
      {"s": "2FEPRATM", "t": 2.263, "v": -2.69}, {"s": "2FEPRATM", "t": 2.308, "v": -2.27}, {"s": "2FEPRATM", "t": 2.424, "v": -1.83},
      {"s": "2FEPRATM", "t": 2.547, "v": -1.4}, {"s": "2FEPRATM", "t": 2.696, "v": -0.96}, {"s": "2FEPRATM", "t": 2.855, "v": -0.53},
      {"s": "2FEPRATM", "t": 3.03, "v": -0.08}, {"s": "2FEPRATM", "t": 3.213, "v": 0.36}, {"s": "2FEPRATM", "t": 3.419, "v": 0.8},
      {"s": "2FEPRATM", "t": 3.634, "v": 1.26}, {"s": "2FEPRATM", "t": 3.866, "v": 1.73}, {"s": "2FEPRATM", "t": 4.108, "v": 2.2},
      {"s": "2FEPRATM", "t": 4.274, "v": 2.2},
      {"s": "2FE00ATM", "t": 2.026, "v": -8}, {"s": "2FE00ATM", "t": 2.029, "v": -4.67}, {"s": "2FE00ATM", "t": 2.147, "v": 5},
      {"s": "2FE00ATM", "t": 2.152, "v": -4.67}, {"s": "2FE00ATM", "t": 2.232, "v": -4.31}, {"s": "2FE00ATM", "t": 2.257, "v": 5},
      {"s": "2FE00ATM", "t": 2.263, "v": -4.31}, {"s": "2FE00ATM", "t": 2.341, "v": -3.98}, {"s": "2FE00ATM", "t": 2.447, "v": -3.64},
      {"s": "2FE00ATM", "t": 2.49, "v": -4.0}, {"s": "2FE00ATM", "t": 2.494, "v": -3.64}, {"s": "2FE00ATM", "t": 2.505, "v": -3.1},
      {"s": "2FE00ATM", "t": 2.508, "v": -3.64}, {"s": "2FE00ATM", "t": 2.547, "v": -3.3}, {"s": "2FE00ATM", "t": 2.666, "v": -2.94},
      {"s": "2FE00ATM", "t": 2.713, "v": -3.65}, {"s": "2FE00ATM", "t": 2.717, "v": -2.94}, {"s": "2FE00ATM", "t": 2.772, "v": -3.65},
      {"s": "2FE00ATM", "t": 2.776, "v": -2.94}, {"s": "2FE00ATM", "t": 2.782, "v": -2.62}, {"s": "2FE00ATM", "t": 2.911, "v": -2.28},
      {"s": "2FE00ATM", "t": 3.044, "v": -1.94}, {"s": "2FE00ATM", "t": 3.07, "v": -1.28}, {"s": "2FE00ATM", "t": 3.074, "v": -1.94},
      {"s": "2FE00ATM", "t": 3.18, "v": -1.62}, {"s": "2FE00ATM", "t": 3.206, "v": -1.97}, {"s": "2FE00ATM", "t": 3.21, "v": -1.62},
      {"s": "2FE00ATM", "t": 3.313, "v": -1.28}, {"s": "2FE00ATM", "t": 3.362, "v": -2.0}, {"s": "2FE00ATM", "t": 3.366, "v": -1.28},
      {"s": "2FE00ATM", "t": 3.468, "v": -0.93}, {"s": "2FE00ATM", "t": 3.578, "v": -2.0}, {"s": "2FE00ATM", "t": 3.582, "v": -0.93},
      {"s": "2FE00ATM", "t": 3.601, "v": -0.63}, {"s": "2FE00ATM", "t": 3.777, "v": -0.3}, {"s": "2FE00ATM", "t": 3.939, "v": 0.04},
      {"s": "2FE00ATM", "t": 4.105, "v": 0.35}, {"s": "2FE00ATM", "t": 4.287, "v": 5}, {"s": "2FE00ATM", "t": 4.29, "v": -8}
    ]
  },
  "vconcat": [
    {
      "width": 1804, "height": 672,
      "resolve": {"axis": {"x": "independent"}},
      "layer": [
        {"data": {"name": "region"}, "mark": {"type": "rect", "color": "#f5b7b7", "opacity": 0.2},
         "encoding": {"x": {"field": "t", "type": "quantitative", "scale": {"domain": [0.8, 5.487], "nice": false, "zero": false}, "axis": null}, "x2": {"field": "t2"}}},
        {"data": {"name": "slew"}, "mark": {"type": "rect", "color": "#999999", "opacity": 0.27},
         "encoding": {"x": {"field": "t", "type": "quantitative", "scale": {"domain": [0.8, 5.487], "nice": false, "zero": false}, "axis": null}, "x2": {"field": "t2"}}},
        {"data": {"name": "edges"}, "mark": {"type": "rule", "color": "black", "strokeWidth": 1.8},
         "encoding": {"x": {"field": "t", "type": "quantitative", "scale": {"domain": [0.8, 5.487], "nice": false, "zero": false},
           "axis": {"orient": "top", "values": [1, 1.5, 2, 2.5, 3, 3.5, 4, 4.5, 5],
             "labelExpr": "'2024:349:' + (floor(datum.value) + 5 < 10 ? '0' : '') + (floor(datum.value) + 5) + ':' + (datum.value % 1 ? '30' : '00') + ':00.000'",
             "labelAngle": 270, "labelAlign": "left", "labelBaseline": "middle", "labelFontSize": 16.5, "labelPadding": 10, "labelLimit": 0,
             "tickSize": 10, "tickWidth": 2, "grid": false, "title": null}}}},
        {"data": {"name": "pitch"}, "mark": {"type": "line", "color": "black", "strokeWidth": 4, "clip": true},
         "encoding": {
           "x": {"field": "t", "type": "quantitative", "scale": {"domain": [0.8, 5.487], "nice": false, "zero": false},
             "axis": {"values": [1, 1.25, 1.5, 1.75, 2, 2.25, 2.5, 2.75, 3, 3.25, 3.5, 3.75, 4, 4.25, 4.5, 4.75, 5, 5.25], "labels": false, "grid": true,
               "gridColor": "#b0b0b0", "gridWidth": 1.5,
               "gridDash": {"condition": {"test": "datum.value % 1 === 0", "value": [1, 0]}, "value": [8, 5]},
               "tickSize": {"condition": {"test": "datum.value % 1 === 0", "value": 28}, "value": 0}, "tickWidth": 4, "title": null}},
           "y": {"field": "v", "type": "quantitative", "scale": {"domain": [45, 180], "nice": false, "zero": false},
             "axis": {"values": [60, 80, 100, 120, 140, 160, 180], "format": "d", "title": "Pitch Angle"}}}},
        {"data": {"name": "hrc"}, "mark": {"type": "text", "angle": 270, "align": "left", "baseline": "middle", "fontSize": 28, "fontWeight": "bold", "font": "DejaVu Sans", "color": "black"},
         "encoding": {
           "x": {"field": "t", "type": "quantitative", "scale": {"domain": [0.8, 5.487], "nice": false, "zero": false}, "axis": null},
           "y": {"field": "v", "type": "quantitative", "scale": {"domain": [45, 180], "nice": false, "zero": false}},
           "text": {"field": "label"}}}
      ]
    },
    {
      "width": 1804, "height": 672,
      "encoding": {"x": {"field": "t", "type": "quantitative", "scale": {"domain": [0.8, 5.487], "nice": false, "zero": false},
        "axis": {"values": [1, 1.25, 1.5, 1.75, 2, 2.25, 2.5, 2.75, 3, 3.25, 3.5, 3.75, 4, 4.25, 4.5, 4.75, 5, 5.25], "labels": false, "grid": true,
          "gridColor": "#b0b0b0", "gridWidth": 1.5,
          "gridDash": {"condition": {"test": "datum.value % 1 === 0", "value": [1, 0]}, "value": [8, 5]},
          "tickSize": {"condition": {"test": "datum.value % 1 === 0", "value": 28}, "value": 0}, "tickWidth": 4, "title": null}}},
      "layer": [
        {"data": {"name": "region"}, "mark": {"type": "rect", "color": "#f5b7b7", "opacity": 0.2}, "encoding": {"x2": {"field": "t2"}}},
        {"data": {"name": "edges"}, "mark": {"type": "rule", "color": "black", "strokeWidth": 1.8}, "encoding": {}},
        {"data": {"name": "model2"}, "mark": {"type": "line", "color": "#3c3c3c", "strokeWidth": 7, "interpolate": "monotone", "clip": true},
         "encoding": {"y": {"field": "v", "type": "quantitative", "scale": {"domain": [-5.54, 11.45], "nice": false, "zero": false},
           "axis": {"values": [-4, -2, 0, 2, 4, 6, 8, 10], "format": "d", "title": "Temperature"}}}},
        {"data": {"name": "temps"}, "mark": {"type": "line", "interpolate": "step-after", "strokeWidth": 7, "strokeJoin": "round", "clip": true},
         "encoding": {
           "y": {"field": "v", "type": "quantitative", "scale": {"domain": [-5.54, 11.45], "nice": false, "zero": false}},
           "color": {"field": "s", "type": "nominal", "title": null,
             "scale": {"domain": ["2CHTRPZT", "2CEAHVPT", "2DTSTATT", "2DCENTRT", "2FHTRMZT"], "range": ["#1f77b4", "#ff7f0e", "#2ca02c", "#d62728", "#9467bd"]},
             "legend": {"orient": "top-left", "offset": 15, "columns": 2, "columnPadding": 56, "symbolType": "stroke", "symbolSize": 3136, "symbolStrokeWidth": 7, "labelOffset": 15}}}},
        {"data": {"name": "limit2"}, "mark": {"type": "rule", "color": "#808080", "strokeWidth": 2.8},
         "encoding": {"y": {"field": "v", "type": "quantitative", "scale": {"domain": [-5.54, 11.45], "nice": false, "zero": false}}}},
        {"data": {"name": "fitbox"}, "mark": {"type": "rect", "fill": "white", "stroke": "black", "strokeWidth": 2.5},
         "encoding": {"x2": {"field": "t2"},
           "y": {"field": "v", "type": "quantitative", "scale": {"domain": [-5.54, 11.45], "nice": false, "zero": false}}, "y2": {"field": "v2"}}},
        {"data": {"name": "fittext"}, "mark": {"type": "text", "align": "left", "baseline": "middle", "fontSize": 28, "font": "DejaVu Sans", "color": "black"},
         "encoding": {"y": {"field": "v", "type": "quantitative", "scale": {"domain": [-5.54, 11.45], "nice": false, "zero": false}}, "text": {"field": "label"}}}
      ]
    },
    {
      "width": 1804, "height": 672,
      "encoding": {"x": {"field": "t", "type": "quantitative", "scale": {"domain": [0.8, 5.487], "nice": false, "zero": false},
        "axis": {"values": [1, 1.25, 1.5, 1.75, 2, 2.25, 2.5, 2.75, 3, 3.25, 3.5, 3.75, 4, 4.25, 4.5, 4.75, 5, 5.25], "labels": false, "grid": true,
          "gridColor": "#b0b0b0", "gridWidth": 1.5,
          "gridDash": {"condition": {"test": "datum.value % 1 === 0", "value": [1, 0]}, "value": [8, 5]},
          "tickSize": {"condition": {"test": "datum.value % 1 === 0", "value": 28}, "value": 0}, "tickWidth": 4, "title": null}}},
      "layer": [
        {"data": {"name": "region"}, "mark": {"type": "rect", "color": "#f5b7b7", "opacity": 0.2}, "encoding": {"x2": {"field": "t2"}}},
        {"data": {"name": "edges"}, "mark": {"type": "rule", "color": "black", "strokeWidth": 1.8}, "encoding": {}},
        {"data": {"name": "temps"}, "transform": [{"filter": "datum.s === '2CEAHVPT'"}],
         "mark": {"type": "line", "interpolate": "step-after", "strokeWidth": 7, "strokeJoin": "round", "clip": true},
         "encoding": {
           "y": {"field": "v", "type": "quantitative", "scale": {"domain": [6.37, 13.51], "nice": false, "zero": false},
             "axis": {"values": [7, 8, 9, 10, 11, 12, 13], "format": "d", "title": "Temperature"}},
           "color": {"field": "s", "type": "nominal", "title": null,
             "scale": {"domain": ["2CEAHVPT", "Model"], "range": ["#1f77b4", "#ff7f0e"]},
             "legend": {"orient": "top-right", "offset": 14, "symbolType": "stroke", "symbolSize": 3136, "symbolStrokeWidth": 7, "labelOffset": 15}}}},
        {"data": {"name": "model3"}, "mark": {"type": "line", "strokeWidth": 6, "clip": true},
         "encoding": {
           "y": {"field": "v", "type": "quantitative", "scale": {"domain": [6.37, 13.51], "nice": false, "zero": false}},
           "color": {"datum": "Model", "type": "nominal", "scale": {"domain": ["2CEAHVPT", "Model"], "range": ["#1f77b4", "#ff7f0e"]}}}},
        {"data": {"name": "limit3"}, "mark": {"type": "rule", "color": "#808080", "strokeWidth": 2.8},
         "encoding": {"y": {"field": "v", "type": "quantitative", "scale": {"domain": [6.37, 13.51], "nice": false, "zero": false}}}}
      ]
    },
    {
      "width": 1804, "height": 672,
      "encoding": {"x": {"field": "t", "type": "quantitative", "scale": {"domain": [0.8, 5.487], "nice": false, "zero": false},
        "axis": {"values": [1, 1.25, 1.5, 1.75, 2, 2.25, 2.5, 2.75, 3, 3.25, 3.5, 3.75, 4, 4.25, 4.5, 4.75, 5, 5.25], "labels": false, "grid": true,
          "gridColor": "#b0b0b0", "gridWidth": 1.5,
          "gridDash": {"condition": {"test": "datum.value % 1 === 0", "value": [1, 0]}, "value": [8, 5]},
          "tickSize": {"condition": {"test": "datum.value % 1 === 0", "value": 28}, "value": 0}, "tickWidth": 4, "title": null}}},
      "layer": [
        {"data": {"name": "region"}, "mark": {"type": "rect", "color": "#f5b7b7", "opacity": 0.2}, "encoding": {"x2": {"field": "t2"}}},
        {"data": {"name": "edges"}, "mark": {"type": "rule", "color": "black", "strokeWidth": 1.8}, "encoding": {}},
        {"data": {"name": "dense"}, "transform": [{"fold": ["TL", "VL", "SH"], "as": ["s", "v"]}, {"filter": "isValid(datum.v)"}],
         "mark": {"type": "line", "strokeWidth": 2, "clip": true},
         "encoding": {
           "y": {"field": "v", "type": "quantitative", "scale": {"type": "log", "domain": [20, 9000], "nice": false},
             "axis": {"values": [20, 30, 40, 50, 60, 70, 80, 90, 100, 200, 300, 400, 500, 600, 700, 800, 900, 1000, 2000, 3000, 4000, 5000, 6000, 7000, 8000, 9000],
               "labelExpr": "datum.value === 100 ? '10²' : datum.value === 1000 ? '10³' : ''",
               "tickSize": {"condition": {"test": "datum.value === 100 || datum.value === 1000", "value": 26}, "value": 9},
               "tickWidth": {"condition": {"test": "datum.value === 100 || datum.value === 1000", "value": 4}, "value": 2.5},
               "title": "Rate"}},
           "color": {"field": "s", "type": "nominal", "title": null,
             "scale": {"domain": ["TL", "VL", "SH", "old", "new"], "range": ["#1f77b4", "#ff7f0e", "#2ca02c", "#9467bd", "#bcbd22"]},
             "legend": {"orient": "bottom-right", "offset": 13, "symbolType": "stroke", "symbolSize": 3136, "symbolStrokeWidth": 3.5, "labelOffset": 15,
               "labelExpr": "datum.label === 'TL' ? '2TLEV1RT (120)' : datum.label === 'VL' ? '2VLEV1RT (57)' : datum.label === 'SH' ? '2SHEV1RT (1,413)' : datum.label === 'old' ? 'Old Proxy' : 'New Proxy'"}},
           "strokeDash": {"field": "s", "type": "nominal", "title": null,
             "scale": {"domain": ["TL", "VL", "SH", "old", "new"], "range": [[1, 0], [1, 0], [1, 0], [8, 4], [8, 4]]},
             "legend": {"orient": "bottom-right", "offset": 13, "symbolType": "stroke", "symbolSize": 3136, "symbolStrokeWidth": 3.5, "labelOffset": 15,
               "labelExpr": "datum.label === 'TL' ? '2TLEV1RT (120)' : datum.label === 'VL' ? '2VLEV1RT (57)' : datum.label === 'SH' ? '2SHEV1RT (1,413)' : datum.label === 'old' ? 'Old Proxy' : 'New Proxy'"}}}},
        {"data": {"name": "proxy"}, "transform": [{"fold": ["old", "new"], "as": ["s", "v"]}],
         "mark": {"type": "line", "strokeWidth": 2, "clip": true},
         "encoding": {
           "y": {"field": "v", "type": "quantitative", "scale": {"type": "log", "domain": [20, 9000], "nice": false}},
           "color": {"field": "s", "type": "nominal", "title": null,
             "scale": {"domain": ["TL", "VL", "SH", "old", "new"], "range": ["#1f77b4", "#ff7f0e", "#2ca02c", "#9467bd", "#bcbd22"]}},
           "strokeDash": {"field": "s", "type": "nominal", "title": null,
             "scale": {"domain": ["TL", "VL", "SH", "old", "new"], "range": [[1, 0], [1, 0], [1, 0], [8, 4], [8, 4]]}}}}
      ]
    },
    {
      "width": 1804, "height": 672,
      "encoding": {"x": {"field": "t", "type": "quantitative", "scale": {"domain": [0.8, 5.487], "nice": false, "zero": false},
        "axis": {"values": [1, 1.25, 1.5, 1.75, 2, 2.25, 2.5, 2.75, 3, 3.25, 3.5, 3.75, 4, 4.25, 4.5, 4.75, 5, 5.25], "labels": false, "grid": true,
          "gridColor": "#b0b0b0", "gridWidth": 1.5,
          "gridDash": {"condition": {"test": "datum.value % 1 === 0", "value": [1, 0]}, "value": [8, 5]},
          "tickSize": {"condition": {"test": "datum.value % 1 === 0", "value": 28}, "value": 0}, "tickWidth": 4, "title": null}}},
      "layer": [
        {"data": {"name": "region"}, "mark": {"type": "rect", "color": "#f5b7b7", "opacity": 0.2}, "encoding": {"x2": {"field": "t2"}}},
        {"data": {"name": "edges"}, "mark": {"type": "rule", "color": "black", "strokeWidth": 1.8}, "encoding": {}},
        {"data": {"name": "volts"}, "mark": {"type": "line", "interpolate": "step-after", "strokeWidth": 7, "strokeJoin": "round", "clip": true},
         "encoding": {
           "y": {"field": "v", "type": "quantitative", "scale": {"domain": [-20, 20], "nice": false, "zero": false},
             "axis": {"values": [-20, -15, -10, -5, 0, 5, 10, 15, 20], "format": "d", "title": "Volt"}},
           "color": {"field": "s", "type": "nominal", "title": null,
             "scale": {"domain": ["2P15VAVL", "2N15VAVL", "2P05VAVL"], "range": ["#1f77b4", "#ff7f0e", "#2ca02c"]},
             "legend": {"orient": "top-right", "offset": 15, "symbolType": "stroke", "symbolSize": 3136, "symbolStrokeWidth": 7, "labelOffset": 15}}}}
      ]
    },
    {
      "width": 1804, "height": 672,
      "encoding": {"x": {"field": "t", "type": "quantitative", "scale": {"domain": [0.8, 5.487], "nice": false, "zero": false},
        "axis": {"values": [1, 1.25, 1.5, 1.75, 2, 2.25, 2.5, 2.75, 3, 3.25, 3.5, 3.75, 4, 4.25, 4.5, 4.75, 5, 5.25], "labels": false, "grid": true,
          "gridColor": "#b0b0b0", "gridWidth": 1.5,
          "gridDash": {"condition": {"test": "datum.value % 1 === 0", "value": [1, 0]}, "value": [8, 5]},
          "tickSize": {"condition": {"test": "datum.value % 1 === 0", "value": 28}, "value": 0}, "tickWidth": 4, "title": null}}},
      "layer": [
        {"data": {"name": "region"}, "mark": {"type": "rect", "color": "#f5b7b7", "opacity": 0.2}, "encoding": {"x2": {"field": "t2"}}},
        {"data": {"name": "edges"}, "mark": {"type": "rule", "color": "black", "strokeWidth": 1.8}, "encoding": {}},
        {"data": {"name": "hvstart"}, "mark": {"type": "circle", "size": 120, "opacity": 1, "clip": true},
         "encoding": {
           "y": {"field": "v", "type": "quantitative", "scale": {"domain": [0, 266.2], "nice": false, "zero": false},
             "axis": {"values": [0, 50, 100, 150, 200, 250], "format": "d", "title": "HV Monitor"}},
           "color": {"field": "s", "type": "nominal", "title": null,
             "scale": {"domain": ["SPB", "SPV", "IV", "IB"], "range": ["#1f77b4", "#ff7f0e", "#2ca02c", "#d62728"]},
             "legend": {"orient": "top-right", "offset": 15, "symbolType": "circle", "symbolSize": 70, "symbolOffset": 14, "labelOffset": 50,
               "labelExpr": "datum.label === 'SPB' ? '2SPHBLV' : datum.label === 'SPV' ? '2SPHVLV' : datum.label === 'IV' ? '2IMHVLV' : '2IMHBLV'"}}}},
        {"data": {"name": "dense"}, "transform": [{"fold": ["IV", "IB"], "as": ["s", "v"]}, {"filter": "isValid(datum.v)"}],
         "mark": {"type": "circle", "size": 120, "opacity": 1, "clip": true},
         "encoding": {
           "y": {"field": "v", "type": "quantitative", "scale": {"domain": [0, 266.2], "nice": false, "zero": false}},
           "color": {"field": "s", "type": "nominal",
             "scale": {"domain": ["SPB", "SPV", "IV", "IB"], "range": ["#1f77b4", "#ff7f0e", "#2ca02c", "#d62728"]}}}}
      ]
    },
    {
      "width": 1804, "height": 672,
      "encoding": {"x": {"field": "t", "type": "quantitative", "scale": {"domain": [0.8, 5.487], "nice": false, "zero": false},
        "axis": {"values": [1, 1.25, 1.5, 1.75, 2, 2.25, 2.5, 2.75, 3, 3.25, 3.5, 3.75, 4, 4.25, 4.5, 4.75, 5, 5.25], "labels": false, "grid": true,
          "gridColor": "#b0b0b0", "gridWidth": 1.5,
          "gridDash": {"condition": {"test": "datum.value % 1 === 0", "value": [1, 0]}, "value": [8, 5]},
          "tickSize": {"condition": {"test": "datum.value % 1 === 0", "value": 28}, "value": 0}, "tickWidth": 4, "title": null}}},
      "layer": [
        {"data": {"name": "region"}, "mark": {"type": "rect", "color": "#f5b7b7", "opacity": 0.2}, "encoding": {"x2": {"field": "t2"}}},
        {"data": {"name": "edges"}, "mark": {"type": "rule", "color": "black", "strokeWidth": 1.8}, "encoding": {}},
        {"data": {"name": "dettemp"}, "mark": {"type": "line", "interpolate": "step-after", "strokeWidth": 7, "strokeJoin": "round", "strokeCap": "round", "clip": true},
         "encoding": {
           "y": {"field": "v", "type": "quantitative", "scale": {"domain": [0.26, 19.96], "nice": false, "zero": false},
             "axis": {"values": [2.5, 5, 7.5, 10, 12.5, 15, 17.5], "format": ".1f", "title": "Detector Temp"}},
           "color": {"field": "s", "type": "nominal", "title": null,
             "scale": {"domain": ["2SPINATM", "2SPHVATM", "2IMINATM", "2IMHVATM"], "range": ["#1f77b4", "#ff7f0e", "#2ca02c", "#d62728"]},
             "legend": {"orient": "top-right", "offset": 14, "symbolType": "stroke", "symbolSize": 3136, "symbolStrokeWidth": 7, "labelOffset": 15}}}}
      ]
    },
    {
      "width": 1804, "height": 672,
      "encoding": {"x": {"field": "t", "type": "quantitative", "scale": {"domain": [0.8, 5.487], "nice": false, "zero": false},
        "axis": {"values": [1, 1.25, 1.5, 1.75, 2, 2.25, 2.5, 2.75, 3, 3.25, 3.5, 3.75, 4, 4.25, 4.5, 4.75, 5, 5.25], "grid": true,
          "gridColor": "#b0b0b0", "gridWidth": 1.5,
          "gridDash": {"condition": {"test": "datum.value % 1 === 0", "value": [1, 0]}, "value": [8, 5]},
          "labelExpr": "datum.value % 1 === 0 ? '0' + datum.value + 'h' : '' + round((datum.value % 1) * 60)",
          "labelFontSize": {"condition": {"test": "datum.value % 1 === 0", "value": 28}, "value": 17},
          "labelPadding": {"condition": {"test": "datum.value % 1 === 0", "value": 10}, "value": 1},
          "tickSize": {"condition": {"test": "datum.value % 1 === 0", "value": 28}, "value": 9},
          "tickWidth": {"condition": {"test": "datum.value % 1 === 0", "value": 4}, "value": 2.5},
          "labelBaseline": "top",
          "title": "2024-12-14 (349)", "titleFontSize": 33, "titlePadding": 6}}},
      "layer": [
        {"data": {"name": "region"}, "mark": {"type": "rect", "color": "#f5b7b7", "opacity": 0.2}, "encoding": {"x2": {"field": "t2"}}},
        {"data": {"name": "edges"}, "mark": {"type": "rule", "color": "black", "strokeWidth": 1.8}, "encoding": {}},
        {"data": {"name": "temps"}, "transform": [{"filter": "datum.s === '2FHTRMZT'"}],
         "mark": {"type": "line", "interpolate": "step-after", "strokeWidth": 7, "strokeJoin": "round", "clip": true},
         "encoding": {
           "y": {"field": "v", "type": "quantitative", "scale": {"domain": [-6.7, 2.76], "nice": false, "zero": false},
             "axis": {"values": [-6, -4, -2, 0, 2], "format": "d", "title": "FEA Temp"}},
           "color": {"field": "s", "type": "nominal", "title": null,
             "scale": {"domain": ["2FHTRMZT", "2FRADPYT", "2FEPRATM", "2FE00ATM"], "range": ["#1f77b4", "#ff7f0e", "#2ca02c", "#d62728"]},
             "legend": {"orient": "bottom-right", "offset": 14, "symbolType": "stroke", "symbolSize": 3136, "symbolStrokeWidth": 7, "labelOffset": 15}}}},
        {"data": {"name": "fea"}, "mark": {"type": "line", "interpolate": "step-after", "strokeWidth": 7, "strokeJoin": "round", "strokeCap": "round", "clip": true},
         "encoding": {
           "y": {"field": "v", "type": "quantitative", "scale": {"domain": [-6.7, 2.76], "nice": false, "zero": false}},
           "color": {"field": "s", "type": "nominal",
             "scale": {"domain": ["2FHTRMZT", "2FRADPYT", "2FEPRATM", "2FE00ATM"], "range": ["#1f77b4", "#ff7f0e", "#2ca02c", "#d62728"]}}}}
      ]
    }
  ]
}
